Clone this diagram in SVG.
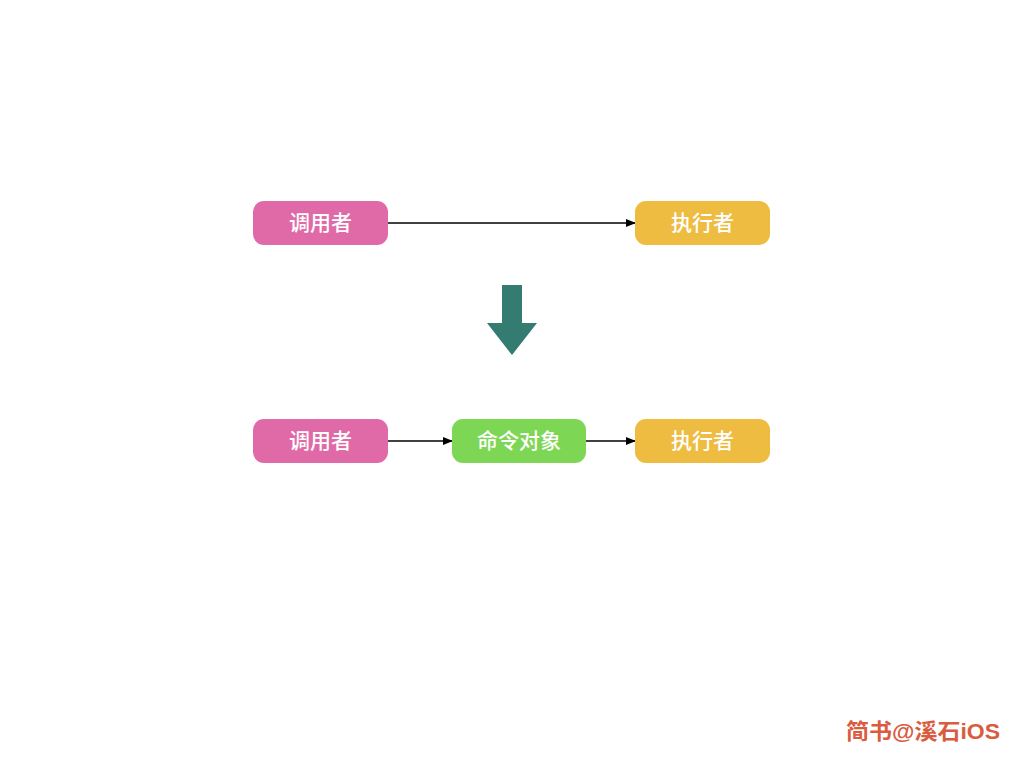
<svg xmlns="http://www.w3.org/2000/svg" width="1024" height="768" viewBox="0 0 1024 768">
<defs>
<style>
.lbl{font-family:"Liberation Sans","Noto Sans CJK SC",sans-serif;font-size:21px;fill:#fff;font-weight:500;text-anchor:middle;dominant-baseline:central}
.edge{stroke:#000;stroke-width:1.5;fill:none;marker-end:url(#ah)}
.wm{font-family:"Liberation Sans","Noto Sans CJK SC",sans-serif;font-size:22px;font-weight:bold;fill:#D95C40}
</style>
<marker id="ah" markerWidth="10" markerHeight="8" refX="9" refY="4" orient="auto" markerUnits="userSpaceOnUse">
<path d="M0,0 L10,4 L0,8 Z" fill="#000"/>
</marker>
</defs>
<rect width="1024" height="768" fill="#fff"/>
<g id="connectors">
<line class="edge" x1="388" y1="223" x2="635" y2="223"/>
<line class="edge" x1="388" y1="441" x2="452" y2="441"/>
<line class="edge" x1="586" y1="441" x2="635" y2="441"/>
</g>
<g id="caller1"><rect x="253" y="201" width="135" height="44" rx="11" fill="#E06AA8"/><text class="lbl" x="320.5" y="222">调用者</text></g>
<g id="executor1"><rect x="635" y="201" width="135" height="44" rx="11" fill="#EEBC40"/><text class="lbl" x="702.5" y="222">执行者</text></g>
<g id="bigarrow"><path d="M502,285 H522 V323 H537 L512,355 L487,323 H502 Z" fill="#347B72"/></g>
<g id="caller2"><rect x="253" y="419" width="135" height="44" rx="11" fill="#E06AA8"/><text class="lbl" x="320.5" y="440">调用者</text></g>
<g id="command"><rect x="452" y="419" width="134" height="44" rx="11" fill="#7ED655"/><text class="lbl" x="519" y="440">命令对象</text></g>
<g id="executor2"><rect x="635" y="419" width="135" height="44" rx="11" fill="#EEBC40"/><text class="lbl" x="702.5" y="440">执行者</text></g>
<text class="wm" x="846" y="739" textLength="154" lengthAdjust="spacingAndGlyphs">简书@溪石iOS</text>
</svg>
